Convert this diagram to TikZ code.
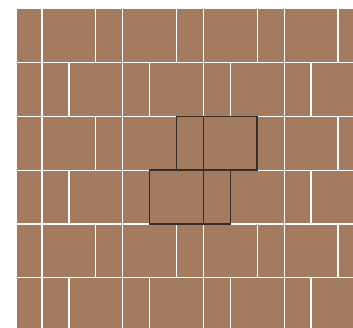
\documentclass[tikz,border=0pt]{standalone}
\usepackage{xcolor}
\definecolor{clay}{RGB}{163,124,96}
\definecolor{edge}{RGB}{52,45,41}
\begin{document}
\begin{tikzpicture}[x=1pt, y=-1pt]
\tikzstyle{tile}=[fill=clay, draw=white, line width=1.2pt]
\tikzstyle{hilite}=[draw=edge, line width=1.5pt]
\useasboundingbox (0,0) rectangle (353,328);
\begin{scope}
\clip (17,9) rectangle (353,328);
\foreach \r in {0,...,5} {
  \pgfmathsetmacro{\ytop}{8.8+53.8*\r}
  \pgfmathsetmacro{\ybot}{\ytop+53.8}
  \pgfmathsetmacro{\off}{mod(\r,2)==0 ? 0 : 26.9}
  \foreach \k in {-1,...,4} {
    \pgfmathsetmacro{\xn}{15.1+\off+80.7*\k}
    \draw[tile] (\xn,\ytop) rectangle ({\xn+26.9},\ybot);
    \draw[tile] ({\xn+26.9},\ytop) rectangle ({\xn+80.7},\ybot);
  }
}
\end{scope}
% outlined tiles
\draw[hilite] (176.5,116.4) rectangle (203.4,170.2) (203.4,116.4) rectangle (257.2,170.2);
\draw[hilite] (149.6,170.2) rectangle (203.4,224) (203.4,170.2) rectangle (230.3,224);
\end{tikzpicture}
\end{document}
